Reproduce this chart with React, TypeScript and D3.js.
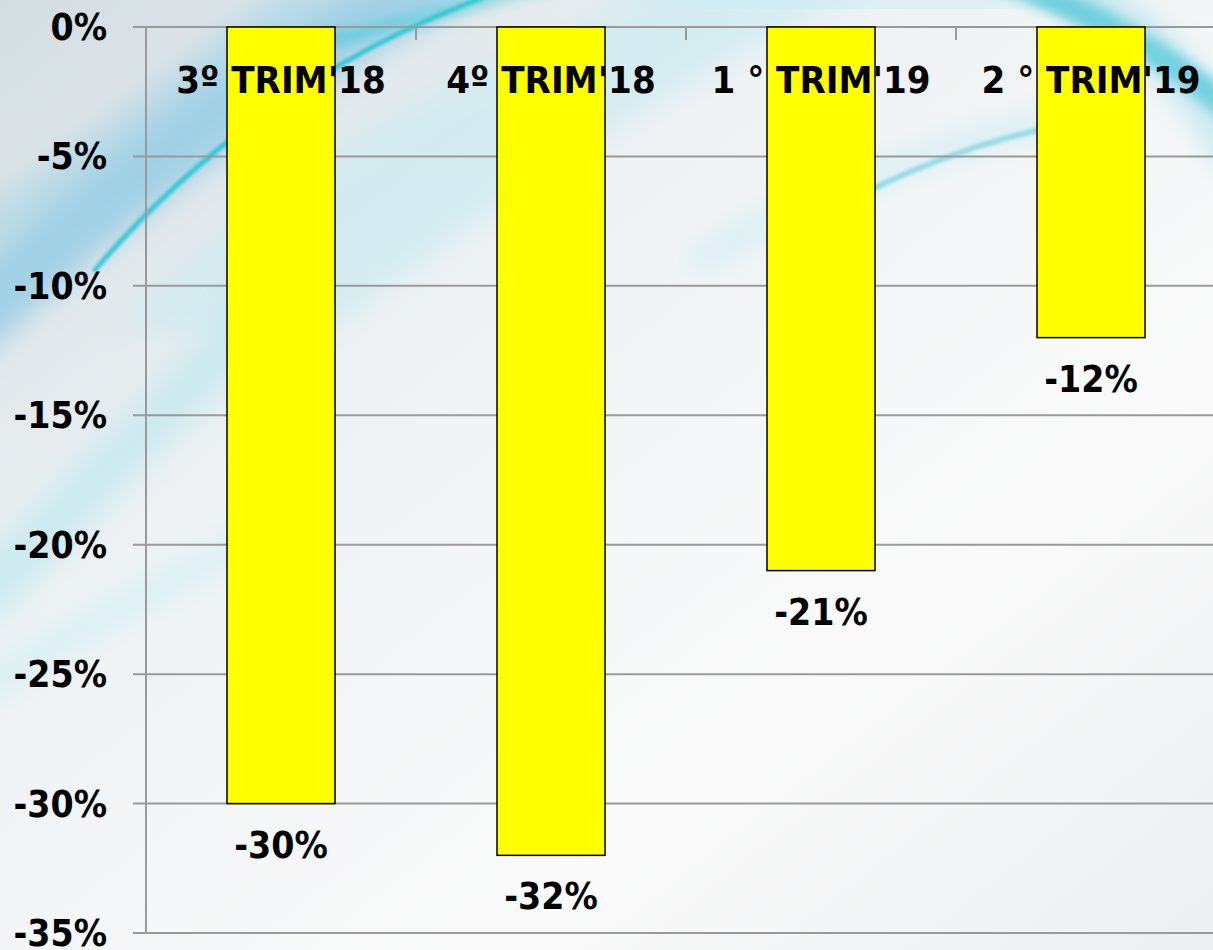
import React, { useRef, useEffect } from 'react';
import * as d3 from 'd3';

const categories = ["3º TRIM'18", "4º TRIM'18", "1 ° TRIM'19", "2 ° TRIM'19"];
const values = [-30, -32, -21, -12];
const valueLabels = ['-30%', '-32%', '-21%', '-12%'];
const yTicks = [0, -5, -10, -15, -20, -25, -30, -35];

const W = 1213;
const H = 950;
const FONT = "'DejaVu Sans Condensed', 'DejaVu Sans', sans-serif";

function App() {
    const ref = useRef<SVGSVGElement>(null);

    useEffect(() => {
        if (!ref.current) return;
        const svg = d3.select(ref.current);
        svg.selectAll('*').remove();

        const margin = { top: 27, left: 146, bottom: 17 };
        const x = d3.scaleBand().domain(categories).range([margin.left, margin.left + 270 * 4]);
        const y = d3.scaleLinear().domain([0, -35]).range([margin.top, H - margin.bottom]);

        // background
        const defs = svg.append('defs');
        const bg = defs.append('linearGradient').attr('id', 'bg')
            .attr('x1', 0).attr('y1', 0).attr('x2', 1).attr('y2', 1);
        bg.append('stop').attr('offset', 0).attr('stop-color', '#d3dde1');
        bg.append('stop').attr('offset', 0.35).attr('stop-color', '#eef2f4');
        bg.append('stop').attr('offset', 0.7).attr('stop-color', '#fafafa');
        bg.append('stop').attr('offset', 1).attr('stop-color', '#eceef0');
        [['blurL', 14], ['blurM', 6], ['blurS', 1.5]].forEach(([id, s]) => {
            defs.append('filter').attr('id', id as string)
                .attr('x', '-20%').attr('y', '-20%').attr('width', '140%').attr('height', '140%')
                .append('feGaussianBlur').attr('stdDeviation', s as number);
        });

        svg.append('rect').attr('width', W).attr('height', H).attr('fill', 'url(#bg)');

        // blue swooshes
        const sw = svg.append('g');
        const swoosh = (d: string, color: string, width: number, op: number, f: string) =>
            sw.append('path').attr('d', d).attr('fill', 'none')
                .attr('stroke', color).attr('stroke-width', width)
                .attr('opacity', op).attr('filter', `url(#${f})`)
                .attr('stroke-linecap', 'round');

        // light cyan area top middle
        sw.append('path')
            .attr('d', 'M 120 330 C 260 180, 420 80, 700 -20 L 900 -20 C 700 60, 500 200, 330 330 Z')
            .attr('fill', '#c4eaf2').attr('opacity', 0.55).attr('filter', 'url(#blurL)');
        swoosh('M -40 330 C 80 220, 230 90, 450 -30', '#6fbfe2', 70, 0.55, 'blurL');
        swoosh('M -40 250 C 60 180, 160 110, 320 -20', '#8fcde6', 40, 0.4, 'blurL');
        swoosh('M 95 270 C 180 170, 310 60, 490 -5', '#16c2d2', 5, 0.8, 'blurS');
        swoosh('M 330 40 C 420 20, 480 0, 560 -20', '#2fc6d6', 14, 0.45, 'blurM');
        swoosh('M -20 600 C 60 520, 150 420, 260 320', '#aee6ee', 50, 0.5, 'blurL');
        swoosh('M -20 690 C 80 630, 180 570, 300 520', '#b8ecf0', 26, 0.45, 'blurL');
        // right side
        swoosh('M 1000 -20 C 1090 10, 1160 50, 1230 110', '#14b8cc', 26, 0.6, 'blurM');
        swoosh('M 1060 -20 C 1130 20, 1190 70, 1230 150', '#7fd4e4', 40, 0.4, 'blurL');
        swoosh('M 860 195 C 930 160, 990 140, 1060 125', '#3cc0d4', 6, 0.5, 'blurS');
        swoosh('M 700 260 C 820 190, 950 140, 1060 120', '#a6e2ec', 22, 0.4, 'blurL');
        swoosh('M 620 -20 C 750 0, 900 10, 1000 0', '#c9ecf2', 40, 0.5, 'blurL');

        // gridlines
        svg.append('g').selectAll('line').data(yTicks).enter().append('line')
            .attr('x1', margin.left - 13).attr('x2', W)
            .attr('y1', d => y(d)).attr('y2', d => y(d))
            .attr('stroke', '#9a9a9a').attr('stroke-width', 2);

        // y axis line
        svg.append('line')
            .attr('x1', margin.left).attr('x2', margin.left)
            .attr('y1', y(0)).attr('y2', y(-35))
            .attr('stroke', '#9a9a9a').attr('stroke-width', 2);

        // category ticks on the 0 line
        svg.append('g').selectAll('line').data(categories.slice(1)).enter().append('line')
            .attr('x1', d => x(d)!).attr('x2', d => x(d)!)
            .attr('y1', y(0)).attr('y2', y(0) + 13)
            .attr('stroke', '#9a9a9a').attr('stroke-width', 2);

        // y tick labels
        svg.append('g').selectAll('text').data(yTicks).enter().append('text')
            .attr('x', 107).attr('y', d => y(d) + 13)
            .attr('text-anchor', 'end')
            .attr('font-family', FONT).attr('font-weight', 'bold').attr('font-size', 37)
            .attr('fill', '#000')
            .text(d => `${d}%`);

        // bars
        const bw = x.bandwidth() * 0.4;
        svg.append('g').selectAll('rect').data(values).enter().append('rect')
            .attr('x', (d, i) => x(categories[i])! + (x.bandwidth() - bw) / 2)
            .attr('y', y(0))
            .attr('width', bw)
            .attr('height', d => y(d) - y(0))
            .attr('fill', '#ffff00').attr('stroke', '#000').attr('stroke-width', 1.5);

        // category labels
        svg.append('g').selectAll('text').data(categories).enter().append('text')
            .attr('x', d => x(d)! + x.bandwidth() / 2)
            .attr('y', 93)
            .attr('text-anchor', 'middle')
            .attr('font-family', FONT).attr('font-weight', 'bold').attr('font-size', 38)
            .attr('fill', '#000')
            .text(d => d);

        // value labels
        svg.append('g').selectAll('text').data(values).enter().append('text')
            .attr('x', (d, i) => x(categories[i])! + x.bandwidth() / 2)
            .attr('y', d => y(d) + 54)
            .attr('text-anchor', 'middle')
            .attr('font-family', FONT).attr('font-weight', 'bold').attr('font-size', 37)
            .attr('fill', '#000')
            .text((d, i) => valueLabels[i]);
    }, []);

    return (
        <svg ref={ref} width={W} height={H}
            style={{ position: 'absolute', left: 0, top: 0, display: 'block' }} />
    );
}

export default App;
